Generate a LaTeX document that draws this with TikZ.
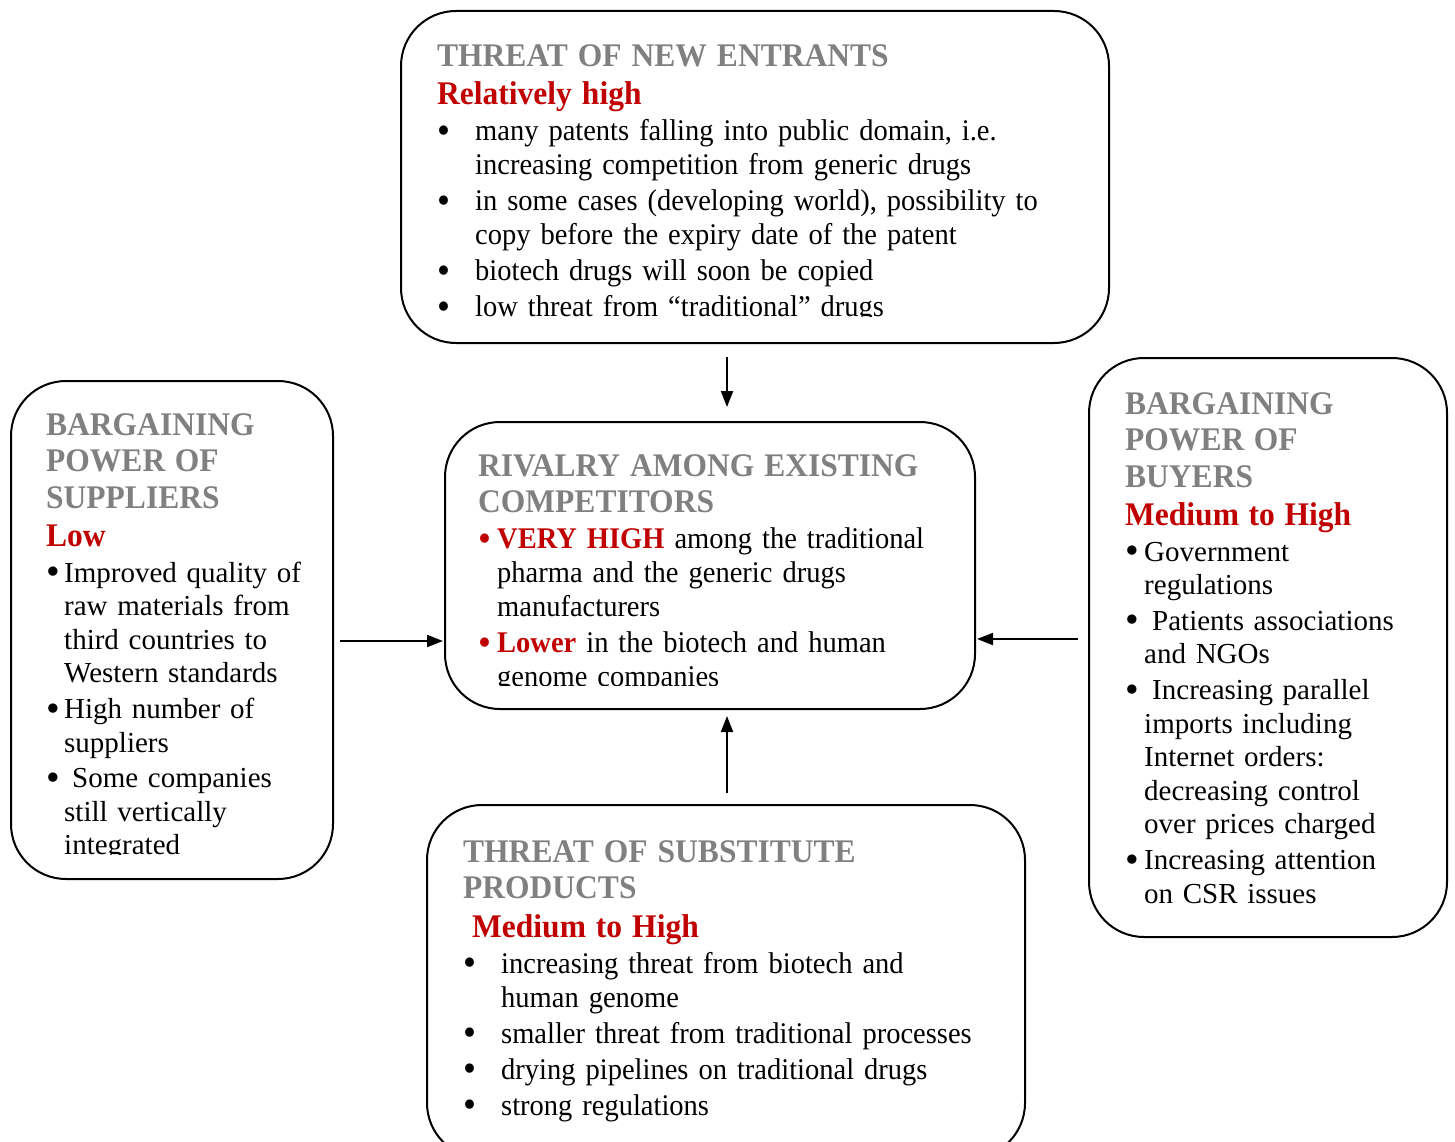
\documentclass[tikz,border=0pt]{standalone}
\usepackage{fontspec}
\setmainfont{Liberation Serif}
\newfontfamily\headfont[FakeStretch=0.955]{Liberation Serif}
\newfontfamily\narrowfont[FakeStretch=0.95]{Liberation Serif}
\usetikzlibrary{arrows.meta}
\definecolor{headgray}{RGB}{128,128,128}
\definecolor{ratered}{RGB}{192,0,0}
\newlength\bulind
\newcommand\nl{\hfil\break}
\newcommand\head[1]{\noindent{\headfont\fontsize{33}{36.5}\selectfont\bfseries\color{headgray}#1\par}}
\newcommand\rate[1]{\noindent{\headfont\fontsize{33}{36.5}\selectfont\bfseries\color{ratered}#1\par}}
\newcommand\bul[2][black]{\hangindent=\bulind\hangafter=1\noindent\makebox[\bulind][l]{\color{#1}\raisebox{-2.5pt}[0pt][0pt]{\fontsize{39}{39}\selectfont\textbullet}}#2\par}
\begin{document}
\begin{tikzpicture}[x=1pt, y=-1pt,
    box/.style={draw, line width=2pt, rounded corners=55pt, inner sep=0pt, outer sep=0pt},
    txt/.style={anchor=north west, inner sep=0pt, align=left, execute at begin node={\setlength\parskip{2pt}}},
    narrowtxt/.style={txt, font=\narrowfont\fontsize{30}{34}\selectfont},
    widetxt/.style={txt, font=\fontsize{29}{33.6}\selectfont},
    arr/.style={line width=2pt, -{Triangle[length=16pt, width=12pt]}}]
    \useasboundingbox (0,0) rectangle (1455,1142);

    % boxes
    \node[box, minimum width=708pt, minimum height=332pt] (entrants) at (755,177) {};
    \node[box, minimum width=530pt, minimum height=287pt] (rivalry) at (710,565.5) {};
    \node[box, minimum width=322pt, minimum height=498pt] (suppliers) at (172,630) {};
    \node[box, minimum width=358pt, minimum height=579pt] (buyers) at (1268,647.5) {};
    \node[box, minimum width=598pt, minimum height=353pt] (substitutes) at (726,981.5) {};

    % texts
    \begin{scope}
        \clip (401,11) rectangle (1109,316);
        \node[narrowtxt, text width=660pt] (entrantstext) at (437,44) {\setlength\bulind{38pt}%
            \head{THREAT OF NEW ENTRANTS}
            \rate{Relatively high}
            \bul{many patents falling into public domain, i.e.\nl increasing competition from generic drugs}
            \bul{in some cases (developing world), possibility to\nl copy before the expiry date of the patent}
            \bul{biotech drugs will soon be copied}
            \bul{low threat from “traditional” drugs}};
    \end{scope}
    \begin{scope}
        \clip (445,422) rectangle (975,685);
        \node[narrowtxt, text width=480pt] (rivalrytext) at (478,454) {\setlength\bulind{19pt}%
            \head{RIVALRY AMONG EXISTING\nl COMPETITORS}
            \bul[ratered]{{\bfseries\color{ratered}VERY HIGH} among the traditional\nl pharma and the generic drugs\nl manufacturers}
            \bul[ratered]{{\bfseries\color{ratered}Lower} in the biotech and human\nl genome companies}};
    \end{scope}
    \begin{scope}
        \clip (11,381) rectangle (333,854);
        \node[widetxt, text width=300pt] (supplierstext) at (46,413) {\setlength\bulind{18pt}%
            \head{BARGAINING\nl POWER OF\nl SUPPLIERS}
            \rate{Low}
            \bul{Improved quality of\nl raw materials from\nl third countries to\nl Western standards}
            \bul{High number of\nl suppliers}
            \bul{\hspace{8pt}Some companies\nl still vertically\nl integrated}};
    \end{scope}
    \node[widetxt, text width=320pt] (buyerstext) at (1125,392) {\setlength\bulind{19pt}%
        \head{BARGAINING\nl POWER OF\nl BUYERS}
        \rate{Medium to High}
        \bul{Government\nl regulations}
        \bul{\hspace{8pt}Patients associations\nl and NGOs}
        \bul{\hspace{8pt}Increasing parallel\nl imports including\nl Internet orders:\nl decreasing control\nl over prices charged}
        \bul{Increasing attention\nl on CSR issues}};
    \node[narrowtxt, text width=560pt] (substitutestext) at (463,840) {\setlength\bulind{38pt}%
        \head{THREAT OF SUBSTITUTE\nl PRODUCTS}
        \rate{\hspace{9pt}Medium to High}
        \bul{increasing threat from biotech and\nl human genome}
        \bul{smaller threat from traditional processes}
        \bul{drying pipelines on traditional drugs}
        \bul{strong regulations}};

    % arrows
    \coordinate (ax) at (727,0);
    \coordinate (ay) at (0,641);
    \coordinate (by) at (0,639);
    \draw[arr, shorten <=14pt, shorten >=15pt] (entrants.south -| ax) -- (rivalry.north -| ax);
    \draw[arr, shorten <=12pt, shorten >=7pt] (substitutes.north -| ax) -- (rivalry.south -| ax);
    \draw[arr, shorten <=7pt, shorten >=2pt] (suppliers.east |- ay) -- (rivalry.west |- ay);
    \draw[arr, shorten <=11pt, shorten >=2pt] (buyers.west |- by) -- (rivalry.east |- by);
\end{tikzpicture}
\end{document}
